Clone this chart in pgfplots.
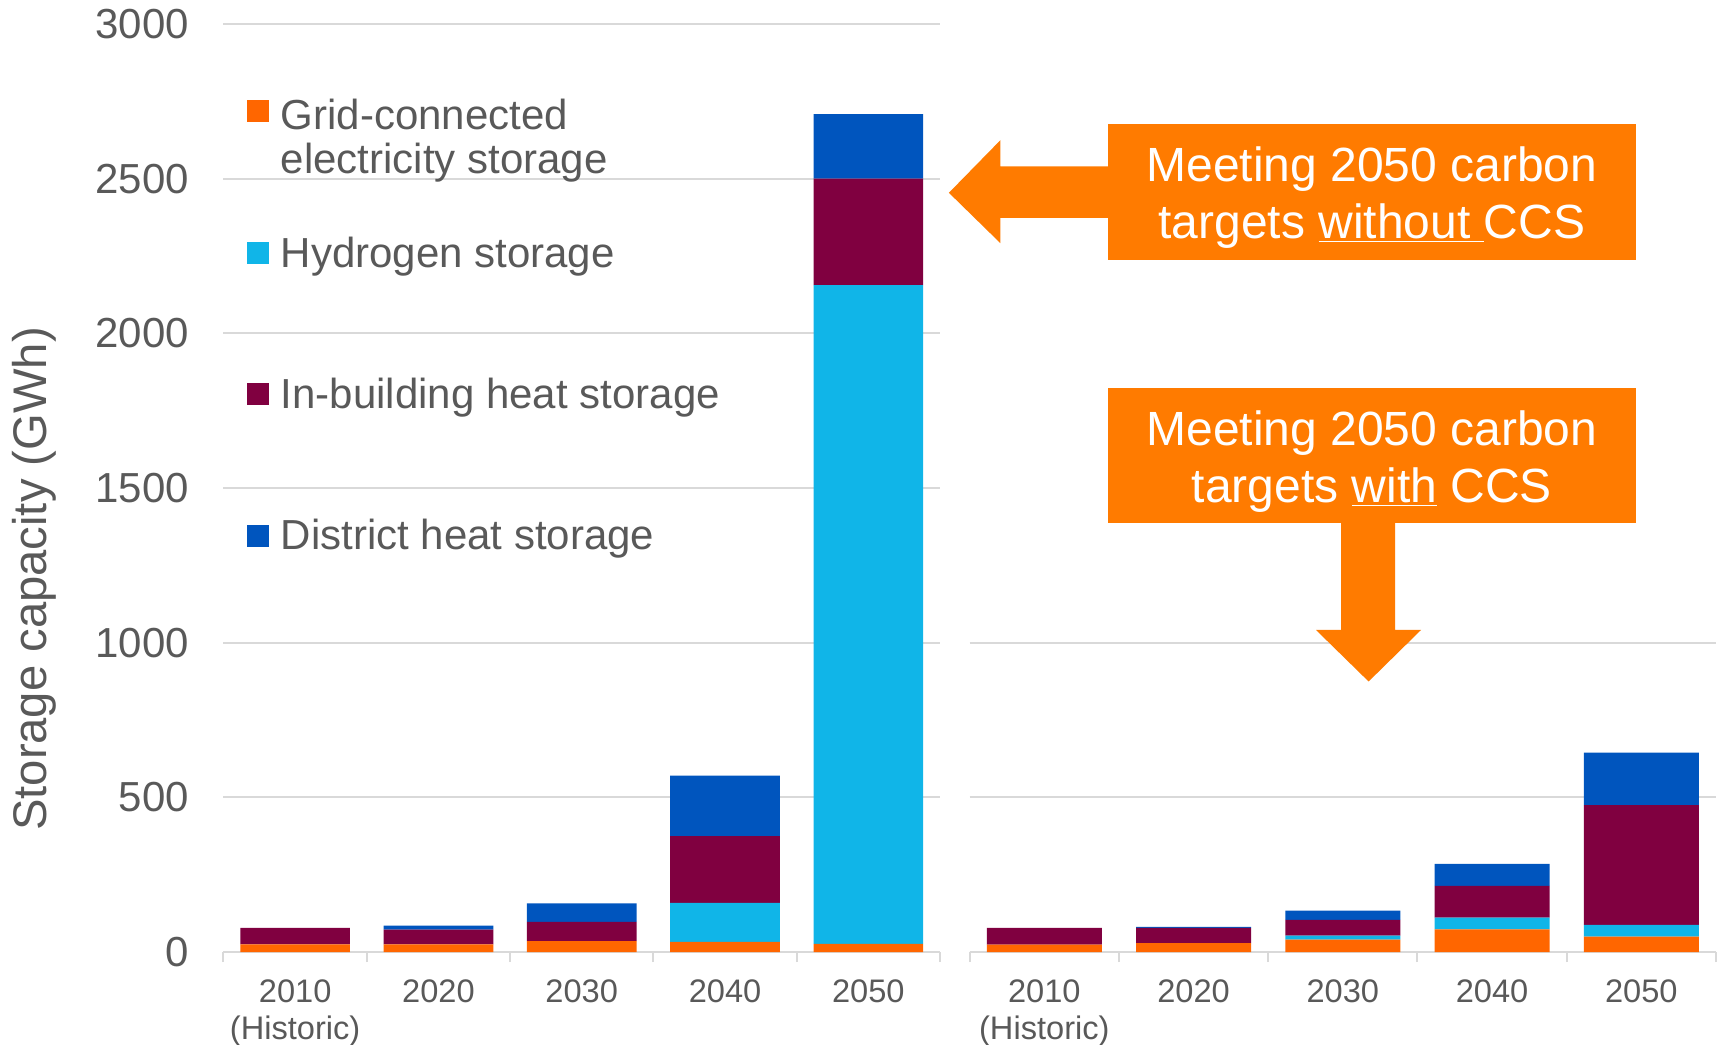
\documentclass[border=0pt]{standalone}
\usepackage{fontspec}
\setmainfont{Liberation Sans}
\usepackage{pgfplots}
\pgfplotsset{compat=1.18}

\definecolor{gridcon}{HTML}{FF6600}
\definecolor{hydro}{HTML}{10B5E8}
\definecolor{inbuild}{HTML}{800040}
\definecolor{district}{HTML}{0055BE}
\definecolor{callout}{HTML}{FF7B00}
\definecolor{lgray}{HTML}{D9D9D9}
\definecolor{txt}{HTML}{595959}

\pgfplotsset{
  storage/.style={
    scale only axis,
    ybar stacked,
    ymin=0, xmin=-0.5, xmax=4.5,
    axis lines*=left,
    y axis line style={draw=none},
    x axis line style={draw=lgray, line width=1pt},
    ymajorgrids,
    grid style={draw=lgray, line width=1pt},
    xtick={0,1,2,3,4},
    minor xtick={-0.5,0.5,1.5,2.5,3.5,4.5},
    major tick length=0pt,
    minor tick length=5pt,
    tick align=outside,
    xtick style={draw=lgray, line width=1pt},
    ytick style={draw=none},
    xticklabel style={align=center, anchor=north, yshift=-10.3pt,
      font=\fontsize{16.3}{18.5}\selectfont, text=txt},
    yticklabel style={font=\fontsize{21}{21}\selectfont, text=txt},
    yticklabel shift=13.7pt,
    /pgf/number format/assume math mode=true,
    /pgf/number format/1000 sep={},
    every axis plot/.append style={draw=none},
  }
}

\begin{document}
\begin{tikzpicture}

% without CCS
\begin{axis}[storage,
  at={(0pt,0pt)},
  width=358.25pt, height=464pt,
  ymax=3000, ytick={0,500,...,3000},
  bar width=54.8pt,
  xticklabels={{2010\\(Historic)},2020,2030,2040,2050},
]
\addplot[fill=gridcon] coordinates {(0,25) (1,25) (2,35) (3,33) (4,26)};
\addplot[fill=hydro] coordinates {(0,0) (1,0) (2,0) (3,126) (4,2130)};
\addplot[fill=inbuild] coordinates {(0,53) (1,47) (2,62) (3,216) (4,344)};
\addplot[fill=district] coordinates {(0,0) (1,13) (2,60) (3,195) (4,209)};
\end{axis}

% with CCS
\begin{axis}[storage,
  at={(373.1pt,0pt)},
  width=373.1pt, height=154.7pt,
  ymax=1000, ytick={0,500,1000}, yticklabels={},
  bar width=57.5pt,
  xticklabels={{2010\\(Historic)},2020,2030,2040,2050},
]
\addplot[fill=gridcon] coordinates {(0,24) (1,29) (2,40) (3,73) (4,50)};
\addplot[fill=hydro] coordinates {(0,0) (1,0) (2,13) (3,38) (4,38)};
\addplot[fill=inbuild] coordinates {(0,54) (1,49) (2,51) (3,103) (4,387)};
\addplot[fill=district] coordinates {(0,0) (1,3) (2,30) (3,71) (4,169)};
\end{axis}

% y label
\node[rotate=90, text=txt, font=\fontsize{23.6}{23.6}\selectfont]
  at (-94.75pt,186.5pt) {Storage capacity (GWh)};

% legend
\begin{scope}[every node/.style={anchor=west, inner sep=0pt, text=txt,
    font=\fontsize{21}{21}\selectfont}]
  \fill[gridcon]  (12pt,415.15pt) rectangle ++(11pt,11pt);
  \node at (28.5pt,419pt) {Grid-connected};
  \node at (28.5pt,394.5pt) {electricity storage};
  \fill[hydro]    (12pt,344pt) rectangle ++(11pt,11pt);
  \node at (28.5pt,347.9pt) {Hydrogen storage};
  \fill[inbuild]  (12pt,273.25pt) rectangle ++(11pt,11pt);
  \node at (28.5pt,277.1pt) {In-building heat storage};
  \fill[district] (12pt,202.6pt) rectangle ++(11pt,11pt);
  \node at (28.5pt,206.5pt) {District heat storage};
\end{scope}

% callouts
\fill[callout] (442.15pt,346.15pt) rectangle (706.2pt,414.1pt);
\fill[callout] (442.15pt,392.75pt) -- (388.45pt,392.75pt) -- (388.45pt,405.9pt)
  -- (362.7pt,379.6pt) -- (388.45pt,354.4pt) -- (388.45pt,367pt)
  -- (442.15pt,367pt) -- cycle;
\node[align=center, text=white, font=\fontsize{24}{28.5}\selectfont]
  at (574.2pt,377.4pt) {Meeting 2050 carbon\\targets \underline{without }CCS};

\fill[callout] (442.15pt,214.65pt) rectangle (706.2pt,282.05pt);
\fill[callout] (558.75pt,215pt) -- (558.75pt,161pt) -- (546.25pt,161pt)
  -- (572.55pt,135.25pt) -- (598.75pt,161pt) -- (585.75pt,161pt)
  -- (585.75pt,215pt) -- cycle;
\node[align=center, text=white, font=\fontsize{24}{28.5}\selectfont]
  at (574.2pt,245.35pt) {Meeting 2050 carbon\\targets \underline{with} CCS};

\pgfresetboundingbox
\useasboundingbox (-111.75pt,-46pt) rectangle (747.25pt,476pt);
\end{tikzpicture}
\end{document}
